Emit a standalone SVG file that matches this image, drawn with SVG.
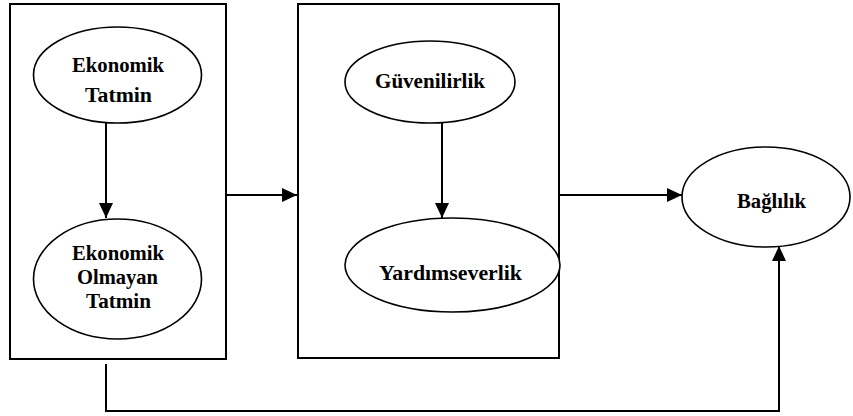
<svg xmlns="http://www.w3.org/2000/svg" width="853" height="416" viewBox="0 0 853 416">
<defs>
<style>
.box{fill:none;stroke:#000;stroke-width:2}
.ell{fill:#fff;stroke:#000;stroke-width:1.6}
.lbl{fill:#000;text-anchor:middle}
.con{fill:none;stroke:#000;stroke-width:2}
</style>
<marker id="ah" markerWidth="15" markerHeight="14" refX="15" refY="7" orient="auto" markerUnits="userSpaceOnUse">
<path d="M0,0 L15,7 L0,14 Z" fill="#000"/>
</marker>
</defs>
<rect width="853" height="416" fill="#fff"/>
<g id="box-left"><rect class="box" x="10" y="4" width="216" height="355"/></g>
<g id="box-mid"><rect class="box" x="298" y="4" width="261" height="354"/></g>
<g id="nodes" font-family="Liberation Serif" font-weight="bold" font-size="20">
<g id="n-ekonomik-tatmin">
<ellipse class="ell" cx="117.5" cy="75" rx="84" ry="48"/>
<text class="lbl" x="118" y="72" textLength="92" lengthAdjust="spacingAndGlyphs">Ekonomik</text>
<text class="lbl" x="118.5" y="102" textLength="67" lengthAdjust="spacingAndGlyphs">Tatmin</text>
</g>
<g id="n-ekonomik-olmayan">
<ellipse class="ell" cx="117.5" cy="279" rx="84" ry="60"/>
<text class="lbl" x="118" y="260" textLength="92" lengthAdjust="spacingAndGlyphs">Ekonomik</text>
<text class="lbl" x="117.5" y="284" textLength="81" lengthAdjust="spacingAndGlyphs">Olmayan</text>
<text class="lbl" x="118.5" y="308" textLength="65" lengthAdjust="spacingAndGlyphs">Tatmin</text>
</g>
<g id="n-guvenilirlik">
<ellipse class="ell" cx="430" cy="82" rx="85" ry="41"/>
<text class="lbl" x="430" y="88" textLength="110" lengthAdjust="spacingAndGlyphs">Güvenilirlik</text>
</g>
<g id="n-yardimseverlik">
<ellipse class="ell" cx="452.5" cy="265" rx="107.5" ry="47"/>
<text class="lbl" x="450.5" y="280" textLength="143" lengthAdjust="spacingAndGlyphs">Yardımseverlik</text>
</g>
<g id="n-baglilik">
<ellipse class="ell" cx="766" cy="197" rx="84" ry="50"/>
<text class="lbl" x="771.5" y="208" textLength="69" lengthAdjust="spacingAndGlyphs">Bağlılık</text>
</g>
</g>
<g id="connectors">
<path class="con" d="M106,123 V218" marker-end="url(#ah)"/>
<path class="con" d="M442,123 V218" marker-end="url(#ah)"/>
<path class="con" d="M226,195 H297" marker-end="url(#ah)"/>
<path class="con" d="M559,195 H682" marker-end="url(#ah)"/>
<path class="con" d="M106,364 V411 H779 V246" marker-end="url(#ah)"/>
</g>
</svg>
